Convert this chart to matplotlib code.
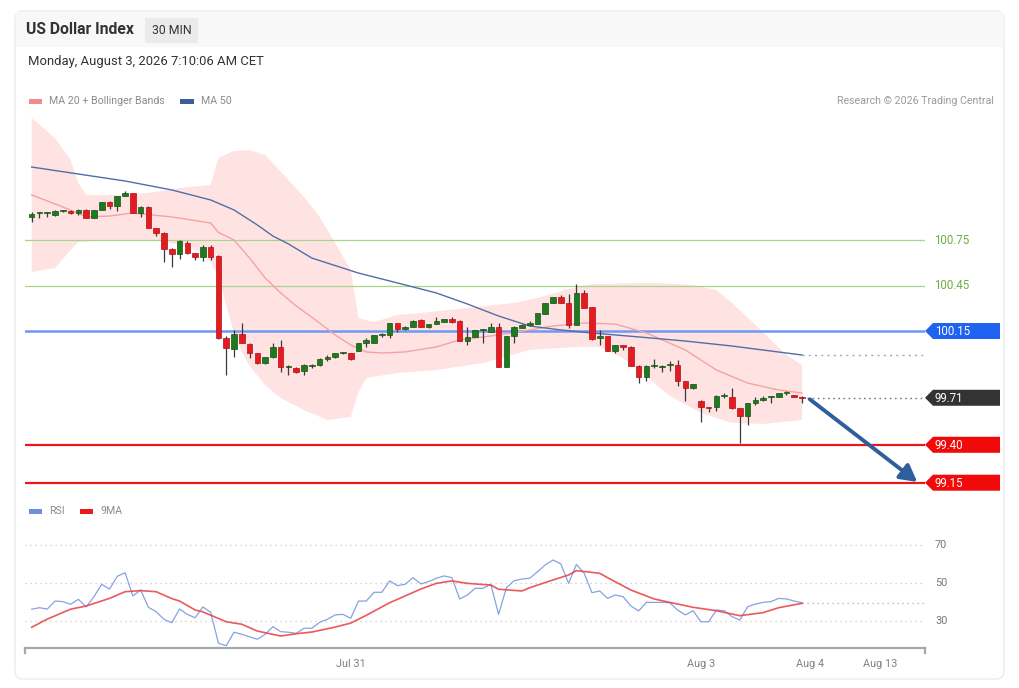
import matplotlib

matplotlib.use("Agg")
import matplotlib.pyplot as plt
from matplotlib.patches import FancyBboxPatch, Polygon, Rectangle

plt.rcParams["font.family"] = ["Roboto", "DejaVu Sans"]

W, H = 1020, 688

GREEN = "#1E7A1E"
RED = "#E51B22"
WICK = "#3A3A3A"
BAND = "#FFE3E3"
MA20_COLOR = "#F3A3A3"
MA50_COLOR = "#4F6FA6"
RSI_COLOR = "#86A2E2"
NINE_COLOR = "#E8484B"
GRAY_TXT = "#8A8A8A"

# 30 min candles, oldest first
OPEN = [
    100.902, 100.925, 100.928, 100.915, 100.941, 100.941, 100.928, 100.948, 100.895, 100.948,
    101.000, 100.974, 101.040, 101.060, 100.928, 100.968, 100.829, 100.796, 100.691, 100.658,
    100.730, 100.664, 100.638, 100.704, 100.644, 100.104, 100.031, 100.130, 100.064, 100.005,
    99.939, 99.979, 100.045, 99.913, 99.906, 99.886, 99.920, 99.926, 99.966, 99.979,
    100.003, 100.005, 100.018, 100.071, 100.071, 100.124, 100.124, 100.203, 100.163, 100.177,
    100.223, 100.177, 100.196, 100.210, 100.229, 100.216, 100.084, 100.111, 100.155, 100.144,
    100.177, 99.913, 100.117, 100.170, 100.192, 100.196, 100.262, 100.335, 100.374, 100.335,
    100.190, 100.401, 100.308, 100.104, 100.117, 100.018, 100.058, 100.045, 99.920, 99.847,
    99.918, 99.913, 99.925, 99.926, 99.820, 99.774, 99.689, 99.649, 99.649, 99.720,
    99.715, 99.642, 99.590, 99.675, 99.698, 99.712, 99.715, 99.741, 99.728, 99.718,
]
HIGH = [
    100.935, 100.932, 100.934, 100.948, 100.948, 100.948, 100.952, 100.952, 100.950, 101.003,
    101.004, 101.043, 101.073, 101.063, 100.971, 100.971, 100.832, 100.803, 100.694, 100.750,
    100.743, 100.667, 100.717, 100.717, 100.648, 100.117, 100.157, 100.203, 100.068, 100.008,
    99.982, 100.071, 100.091, 99.926, 99.910, 99.930, 99.933, 99.969, 99.992, 100.008,
    100.012, 100.008, 100.074, 100.104, 100.127, 100.137, 100.206, 100.206, 100.180, 100.220,
    100.226, 100.199, 100.243, 100.232, 100.243, 100.220, 100.177, 100.160, 100.163, 100.203,
    100.203, 100.120, 100.180, 100.193, 100.216, 100.272, 100.338, 100.377, 100.387, 100.394,
    100.460, 100.420, 100.311, 100.157, 100.120, 100.061, 100.061, 100.048, 99.923, 99.923,
    99.966, 99.926, 99.952, 99.959, 99.823, 99.804, 99.692, 99.652, 99.725, 99.741,
    99.774, 99.645, 99.678, 99.715, 99.722, 99.720, 99.744, 99.754, 99.731, 99.720,
]
LOW = [
    100.869, 100.895, 100.900, 100.908, 100.935, 100.921, 100.915, 100.893, 100.893, 100.945,
    100.954, 100.941, 101.037, 100.925, 100.902, 100.826, 100.776, 100.605, 100.572, 100.625,
    100.660, 100.618, 100.611, 100.618, 100.100, 99.860, 99.979, 100.068, 99.972, 99.935,
    99.935, 99.975, 99.880, 99.860, 99.876, 99.860, 99.906, 99.922, 99.952, 99.975,
    99.998, 99.962, 100.015, 100.045, 100.068, 100.111, 100.104, 100.144, 100.160, 100.174,
    100.174, 100.173, 100.193, 100.207, 100.206, 100.081, 100.058, 100.108, 100.071, 100.141,
    99.910, 99.910, 100.071, 100.167, 100.183, 100.193, 100.259, 100.332, 100.332, 100.170,
    100.187, 100.299, 100.094, 100.058, 100.015, 100.005, 100.025, 99.917, 99.807, 99.820,
    99.906, 99.880, 99.886, 99.787, 99.689, 99.771, 99.550, 99.616, 99.623, 99.708,
    99.639, 99.412, 99.530, 99.662, 99.689, 99.675, 99.712, 99.728, 99.712, 99.675,
]
CLOSE = [
    100.921, 100.930, 100.932, 100.941, 100.945, 100.928, 100.948, 100.895, 100.948, 101.000,
    100.974, 101.040, 101.060, 100.928, 100.968, 100.829, 100.796, 100.691, 100.658, 100.743,
    100.664, 100.638, 100.704, 100.638, 100.104, 100.038, 100.130, 100.071, 100.005, 99.939,
    99.979, 100.045, 99.913, 99.920, 99.880, 99.926, 99.922, 99.966, 99.979, 100.005,
    100.007, 99.966, 100.071, 100.091, 100.124, 100.130, 100.203, 100.163, 100.177, 100.216,
    100.177, 100.196, 100.216, 100.229, 100.210, 100.084, 100.111, 100.157, 100.160, 100.177,
    99.913, 100.117, 100.177, 100.190, 100.197, 100.269, 100.335, 100.374, 100.335, 100.190,
    100.401, 100.302, 100.097, 100.117, 100.018, 100.058, 100.045, 99.920, 99.847, 99.920,
    99.922, 99.917, 99.930, 99.820, 99.774, 99.801, 99.649, 99.642, 99.722, 99.724,
    99.642, 99.590, 99.675, 99.695, 99.702, 99.716, 99.741, 99.745, 99.715, 99.708,
]

# indicator lines read at candle positions
MA20_IDX = [0, 4, 7, 10, 13, 18, 23, 24, 26, 28, 30, 32, 34, 37, 39, 41, 43, 45, 48,
            52, 55, 60, 64, 67, 71, 75, 79, 84, 88, 92, 96, 99]
MA20_VAL = [101.047, 100.968, 100.902, 100.908, 100.928, 100.902, 100.862, 100.800, 100.750,
            100.631, 100.500, 100.401, 100.315, 100.203, 100.124, 100.058, 100.012, 100.005,
            100.012, 100.045, 100.091, 100.124, 100.157, 100.183, 100.203, 100.196, 100.137,
            100.025, 99.893, 99.807, 99.761, 99.741]

MA50_IDX = [0, 6, 12, 18, 23, 26, 29, 31, 33, 36, 40, 42, 46, 52, 56, 60, 64, 68, 72,
            78, 84, 90, 95, 99]
MA50_VAL = [101.231, 101.185, 101.139, 101.080, 101.014, 100.948, 100.849, 100.776, 100.724,
            100.631, 100.565, 100.532, 100.480, 100.401, 100.328, 100.249, 100.183, 100.157,
            100.137, 100.111, 100.084, 100.051, 100.018, 99.992]

UPPER_IDX = [0, 3, 5, 6, 7, 12, 16, 19, 23, 24, 26, 28, 30, 33, 35, 37, 39, 41, 42, 44,
             47, 50, 56, 62, 65, 69, 72, 80, 83, 85, 88, 90, 93, 95, 97, 99]
UPPER_VAL = [101.554, 101.422, 101.277, 101.126, 101.047, 101.047, 101.066, 101.093,
             101.113, 101.291, 101.337, 101.343, 101.310, 101.146, 101.033, 100.902,
             100.730, 100.552, 100.236, 100.209, 100.256, 100.269, 100.302, 100.335,
             100.368, 100.427, 100.460, 100.467, 100.460, 100.453, 100.420, 100.335,
             100.190, 100.091, 99.992, 99.926]

LOWER_IDX = [0, 3, 5, 6, 10, 15, 18, 21, 22, 23, 24, 25, 26, 27, 28, 30, 32, 35, 38, 41,
             42, 43, 47, 52, 58, 64, 70, 73, 76, 78, 82, 86, 90, 94, 99]
LOWER_VAL = [100.539, 100.565, 100.684, 100.737, 100.750, 100.750, 100.730, 100.684,
             100.671, 100.605, 100.506, 100.322, 100.137, 100.012, 99.919, 99.794, 99.708,
             99.629, 99.563, 99.583, 99.748, 99.840, 99.873, 99.893, 99.939, 100.025,
             100.045, 100.045, 99.972, 99.893, 99.722, 99.610, 99.544, 99.537, 99.563]

RSI = [
    36.2, 37.0, 36.3, 40.5, 40.2, 38.8, 41.4, 37.4, 42.8, 49.3,
    46.8, 53.5, 55.4, 43.2, 46.3, 37.2, 34.9, 30.9, 29.1, 36.3,
    33.5, 31.7, 37.4, 34.6, 18.3, 17.0, 24.1, 23.0, 21.7, 20.4,
    23.0, 27.0, 24.4, 24.1, 23.5, 26.2, 26.2, 29.3, 30.9, 33.2,
    33.5, 31.4, 40.5, 40.5, 45.1, 45.1, 51.1, 48.6, 49.3, 52.8,
    49.5, 50.7, 52.5, 53.7, 52.8, 41.6, 43.7, 47.2, 47.2, 49.3,
    33.5, 47.4, 51.2, 52.1, 52.5, 55.9, 59.5, 62.1, 60.0, 49.8,
    59.8, 55.1, 44.9, 45.8, 41.9, 43.7, 42.8, 37.9, 35.3, 39.8,
    39.8, 39.8, 39.6, 35.8, 33.2, 35.4, 29.6, 29.6, 35.8, 35.4,
    32.3, 30.5, 37.5, 38.9, 39.8, 40.2, 41.9, 41.6, 40.5, 39.6,
]
MA9_IDX = [0, 2, 5, 7, 10, 12, 14, 16, 18, 19, 21, 22, 25, 27, 29, 32, 34, 36, 39, 41,
           43, 46, 50, 52, 54, 56, 59, 60, 63, 64, 67, 69, 70, 73, 74, 77, 80, 82, 85,
           88, 91, 94, 96, 99]
MA9_VAL = [26.7, 31.0, 36.2, 37.9, 41.9, 45.4, 46.0, 45.4, 41.8, 40.5, 35.8, 34.8, 29.6,
           28.3, 24.7, 22.1, 23.3, 24.2, 26.8, 28.9, 33.0, 39.6, 46.8, 49.8, 51.1, 49.8,
           48.9, 46.7, 45.8, 47.5, 51.6, 54.2, 56.5, 55.1, 52.8, 46.3, 41.6, 39.8, 37.2,
           35.4, 32.8, 34.4, 37.0, 39.3]

RESIST = [100.75, 100.45]
PIVOT = 100.15
LAST = 99.71
SUPPORT = [99.40, 99.15]
RSI_GRID = [70, 50, 30]

TICK_POS = [41, 86, 100, 109]
TICK_LABELS = ["Jul 31", "Aug 3", "Aug 4", "Aug 13"]

X_MIN, X_MAX = -0.86, 114.8


def px_rect(x0, y0, x1, y1):
    return [x0 / W, 1 - y1 / H, (x1 - x0) / W, (y1 - y0) / H]


def to_px_y(ax, value):
    return H - ax.transData.transform((0, value))[1]


def tag(ov, y, text, color):
    pts = [(925, y), (933, y - 8), (1000, y - 8), (1000, y + 8), (933, y + 8)]
    ov.add_patch(Polygon(pts, closed=True, facecolor=color, edgecolor="none"))
    ov.text(935, y + 0.5, text, color="white", fontsize=8.3, va="center", ha="left")


def draw_candles(ax):
    n = len(CLOSE)
    xs = list(range(n))
    colors = [GREEN if c >= o else RED for o, c in zip(OPEN, CLOSE)]
    ax.vlines(xs, LOW, HIGH, color=WICK, linewidth=0.9, zorder=5)
    bottoms = [min(o, c) for o, c in zip(OPEN, CLOSE)]
    heights = [max(abs(c - o), 0.008) for o, c in zip(OPEN, CLOSE)]
    edges = ["#145214" if c == GREEN else "#B01015" for c in colors]
    ax.bar(xs, heights, bottom=bottoms, width=0.72, color=colors, edgecolor=edges,
           linewidth=0.5, zorder=6)


def main():
    fig = plt.figure(figsize=(W / 100, H / 100), dpi=100)
    fig.patch.set_facecolor("white")

    ov = fig.add_axes([0, 0, 1, 1])
    ov.set_xlim(0, W)
    ov.set_ylim(H, 0)
    ov.axis("off")

    # card and header
    ov.add_patch(FancyBboxPatch((15, 11), 989, 668, boxstyle="round,pad=0,rounding_size=8",
                                facecolor="white", edgecolor="#ECECEC", linewidth=1))
    ov.add_patch(Rectangle((16, 12), 987, 35, facecolor="#F8F8F8", edgecolor="none"))
    ov.text(26, 30, "US Dollar Index", fontsize=11.3, fontweight="bold", color="#333333",
            va="center")
    ov.add_patch(Rectangle((145, 18), 53, 25, facecolor="#EBEBEB", edgecolor="none"))
    ov.text(171.5, 30.5, "30 MIN", fontsize=8.8, color="#333333", va="center", ha="center")
    ov.text(28, 62, "Monday, August 3, 2026 7:10:06 AM CET", fontsize=9.35, color="#333333",
            va="center")

    # legends
    ov.add_patch(Rectangle((29, 99), 13, 4.5, facecolor="#F28B8B", edgecolor="none"))
    ov.text(49, 101.5, "MA 20 + Bollinger Bands", fontsize=7.7, color=GRAY_TXT, va="center")
    ov.add_patch(Rectangle((180, 99), 14, 4.5, facecolor="#3D5F99", edgecolor="none"))
    ov.text(201, 101.5, "MA 50", fontsize=7.7, color=GRAY_TXT, va="center")
    ov.text(994, 101.5, "Research \u00a9 2026 Trading Central", fontsize=7.7, color="#9A9A9A",
            va="center", ha="right")
    ov.add_patch(Rectangle((29, 509), 13, 4.5, facecolor="#6E8FDB", edgecolor="none"))
    ov.text(49, 511.5, "RSI", fontsize=7.7, color=GRAY_TXT, va="center")
    ov.add_patch(Rectangle((80, 509), 13, 4.5, facecolor="#E81C1C", edgecolor="none"))
    ov.text(101, 511.5, "9MA", fontsize=7.7, color=GRAY_TXT, va="center")

    # price panel
    ax = fig.add_axes(px_rect(25, 110, 925, 495))
    ax.patch.set_visible(False)
    ax.set_xlim(X_MIN, X_MAX)
    ax.set_ylim(99.069, 101.607)
    ax.axis("off")

    band_x = UPPER_IDX + LOWER_IDX[::-1]
    band_y = UPPER_VAL + LOWER_VAL[::-1]
    ax.fill(band_x, band_y, color=BAND, linewidth=0, zorder=1)

    for level in RESIST:
        ax.axhline(level, color="#A8D48C", linewidth=0.9, zorder=2)
    ax.axhline(PIVOT, color="#6F98F2", linewidth=1.8, zorder=2)
    for level in SUPPORT:
        ax.axhline(level, color="#E8191E", linewidth=1.6, zorder=2)

    ax.plot(MA20_IDX, MA20_VAL, color=MA20_COLOR, linewidth=1.0, zorder=3)
    ax.plot(MA50_IDX, MA50_VAL, color=MA50_COLOR, linewidth=1.0, zorder=3)
    ax.plot([MA50_IDX[-1], X_MAX], [MA50_VAL[-1], MA50_VAL[-1]], color="#9DA9BC",
            linewidth=1.0, linestyle=(0, (1.5, 3)), zorder=3)
    ax.plot([len(CLOSE) - 0.4, X_MAX], [LAST, LAST], color="#777777", linewidth=1.0,
            linestyle=(0, (1.2, 2.5)), zorder=3)

    draw_candles(ax)

    ax.annotate("", xy=(113.8, SUPPORT[1] + 0.005), xytext=(100.0, LAST - 0.01),
                arrowprops=dict(arrowstyle="-|>,head_length=1.0,head_width=0.55",
                                color="#2F5E9C", lw=2.8, shrinkA=0, shrinkB=0),
                annotation_clip=False, zorder=8)

    # right-hand labels
    for level in RESIST:
        ov.text(934, to_px_y(ax, level), f"{level:.2f}", fontsize=8.3, color="#6DAF3C",
                va="center")
    tag(ov, to_px_y(ax, PIVOT), f"{PIVOT:.2f}", "#1F63F0")
    tag(ov, to_px_y(ax, LAST), f"{LAST:.2f}", "#333333")
    for level in SUPPORT:
        tag(ov, to_px_y(ax, level), f"{level:.2f}", "#F00A0A")

    # RSI panel
    rx = fig.add_axes(px_rect(25, 525, 925, 648))
    rx.patch.set_visible(False)
    rx.set_xlim(X_MIN, X_MAX)
    rx.set_ylim(15.8, 80.5)
    for level in RSI_GRID:
        rx.axhline(level, color="#C8C8C8", linewidth=0.9, linestyle=(0, (1, 3)), zorder=1)
        ov.text(935, to_px_y(rx, level), str(level), fontsize=7.8, color="#777777",
                va="center")
    rx.plot([len(RSI) - 1, X_MAX], [RSI[-1], RSI[-1]], color="#9FB0D6", linewidth=0.9,
            linestyle=(0, (1, 3)), zorder=1)
    rx.plot(range(len(RSI)), RSI, color=RSI_COLOR, linewidth=0.9, zorder=3)
    rx.plot(MA9_IDX, MA9_VAL, color=NINE_COLOR, linewidth=1.2, alpha=0.9, zorder=4)

    for side in ("top", "right", "left"):
        rx.spines[side].set_visible(False)
    rx.spines["bottom"].set_color("#A8A8A8")
    rx.spines["bottom"].set_linewidth(1.6)
    rx.set_yticks([])
    rx.set_xticks(TICK_POS)
    rx.set_xticklabels(TICK_LABELS, fontsize=7.8, color="#808080")
    rx.tick_params(axis="x", length=0, pad=8)
    for xe in (X_MIN, X_MAX):
        rx.plot([xe, xe], [15.8, 13.0], color="#A8A8A8", linewidth=1.6, clip_on=False)

    fig.savefig("out.png", dpi=100)
    plt.close(fig)


if __name__ == "__main__":
    main()
